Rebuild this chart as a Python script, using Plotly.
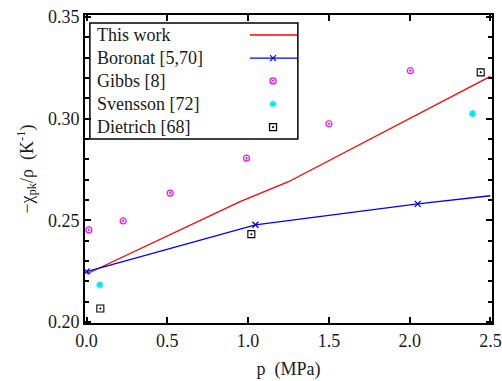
import plotly.graph_objects as go

# ---- data ----
this_work_p = [0.0, 0.95, 1.25, 2.5]
this_work_v = [0.2236, 0.2592, 0.2690, 0.3208]

boronat_p = [0.0, 1.045, 2.05]
boronat_v = [0.2248, 0.2478, 0.2581]
boronat_ext_p = [2.05, 2.5]
boronat_ext_v = [0.2581, 0.2621]

gibbs_p = [0.014, 0.226, 0.517, 0.99, 1.5, 2.004]
gibbs_v = [0.2453, 0.2497, 0.2634, 0.2806, 0.2975, 0.3236]

svensson_p = [0.082, 2.39]
svensson_v = [0.2182, 0.3025]

dietrich_p = [0.085, 1.02, 2.44]
dietrich_v = [0.2066, 0.2432, 0.3228]

names = ["This work", "Boronat [5,70]", "Gibbs [8]", "Svensson [72]", "Dietrich [68]"]
x_ticks = [0.0, 0.5, 1.0, 1.5, 2.0, 2.5]
x_tick_labels = ["0.0", "0.5", "1.0", "1.5", "2.0", "2.5"]
y_ticks = [0.20, 0.25, 0.30, 0.35]
y_tick_labels = ["0.20", "0.25", "0.30", "0.35"]

RED, BLUE, MAG, CYAN, BLK = "#ff0000", "#0000ff", "#ff00ff", "#00e5ee", "#000000"
FONT = "Liberation Serif"

fig = go.Figure()
fig.add_trace(go.Scatter(x=this_work_p, y=this_work_v, mode="lines",
                         line=dict(color=RED, width=1.3), showlegend=False))
fig.add_trace(go.Scatter(x=boronat_p, y=boronat_v, mode="lines+markers",
                         line=dict(color=BLUE, width=1.3),
                         marker=dict(symbol="x-thin-open", size=6, color=BLUE,
                                     line=dict(color=BLUE, width=1.3)),
                         showlegend=False))
fig.add_trace(go.Scatter(x=boronat_ext_p, y=boronat_ext_v, mode="lines",
                         line=dict(color=BLUE, width=1.3), showlegend=False))
fig.add_trace(go.Scatter(x=gibbs_p, y=gibbs_v, mode="markers",
                         marker=dict(symbol="circle-open-dot", size=6, color=MAG,
                                     line=dict(color=MAG, width=1.2)),
                         showlegend=False))
fig.add_trace(go.Scatter(x=svensson_p, y=svensson_v, mode="markers",
                         marker=dict(symbol="asterisk-open", size=6, color=CYAN,
                                     line=dict(color=CYAN, width=1.6)),
                         showlegend=False))
fig.add_trace(go.Scatter(x=dietrich_p, y=dietrich_v, mode="markers",
                         marker=dict(symbol="square-open-dot", size=7, color=BLK,
                                     line=dict(color=BLK, width=1.1)),
                         showlegend=False))

# ---- custom legend (text on left, samples on right) ----
leg_rows = [0.935, 0.860, 0.786, 0.711, 0.636]
leg_text_x = 0.024
leg_line_x0, leg_line_x1, leg_mark_x = 0.405, 0.521, 0.462
sample_styles = [
    dict(line=True, color=RED, symbol=None),
    dict(line=True, color=BLUE, symbol="x-thin-open", size=6),
    dict(line=False, color=MAG, symbol="circle-open-dot", size=6),
    dict(line=False, color=CYAN, symbol="asterisk-open", size=6),
    dict(line=False, color=BLK, symbol="square-open-dot", size=7),
]
for name, yy, st in zip(names, leg_rows, sample_styles):
    fig.add_annotation(x=leg_text_x, y=yy, xref="paper", yref="paper",
                       text=name, showarrow=False, xanchor="left", yanchor="middle",
                       font=dict(family=FONT, size=18, color="#1a1a1a"))
    if st["line"]:
        fig.add_trace(go.Scatter(x=[leg_line_x0, leg_line_x1], y=[yy, yy], mode="lines",
                                 line=dict(color=st["color"], width=1.3),
                                 xaxis="x2", yaxis="y2", showlegend=False, hoverinfo="skip"))
    if st["symbol"]:
        fig.add_trace(go.Scatter(x=[leg_mark_x], y=[yy], mode="markers",
                                 marker=dict(symbol=st["symbol"], size=st["size"], color=st["color"],
                                             line=dict(color=st["color"], width=1.3)),
                                 xaxis="x2", yaxis="y2", showlegend=False, hoverinfo="skip"))

fig.add_shape(type="rect", xref="paper", yref="paper", x0=0.012, x1=0.523, y0=0.597, y1=0.974,
              line=dict(color="black", width=1.5), fillcolor="rgba(0,0,0,0)")

axis_common = dict(showgrid=False, zeroline=False, showline=True, linecolor="black", linewidth=2,
                   mirror="ticks", ticks="inside", ticklen=6, tickwidth=1.5, tickcolor="black",
                   tickfont=dict(family=FONT, size=18, color="#1a1a1a"), automargin=False)

fig.update_layout(
    width=502, height=381,
    margin=dict(l=85, r=10, t=15, b=58),
    plot_bgcolor="white", paper_bgcolor="white",
    xaxis=dict(range=[-0.01, 2.51], tickvals=x_ticks, ticktext=x_tick_labels,
               title=dict(text="p  (MPa)", font=dict(family=FONT, size=18, color="#1a1a1a"), standoff=13),
               minor=dict(ticks=""), **axis_common),
    yaxis=dict(range=[0.1995, 0.351], tickvals=y_ticks, ticktext=y_tick_labels,
               title=dict(text="−χ<sub>pk</sub>/ρ  (K<sup>-1</sup>)",
                          font=dict(family=FONT, size=18, color="#1a1a1a"), standoff=10),
               minor=dict(ticks="inside", ticklen=4, tickwidth=1.5, tickcolor="black", dtick=0.01),
               **axis_common),
    xaxis2=dict(overlaying="x", range=[0, 1], visible=False, domain=[0, 1]),
    yaxis2=dict(overlaying="y", range=[0, 1], visible=False, domain=[0, 1]),
    showlegend=False,
)

fig.write_html("out.html")
